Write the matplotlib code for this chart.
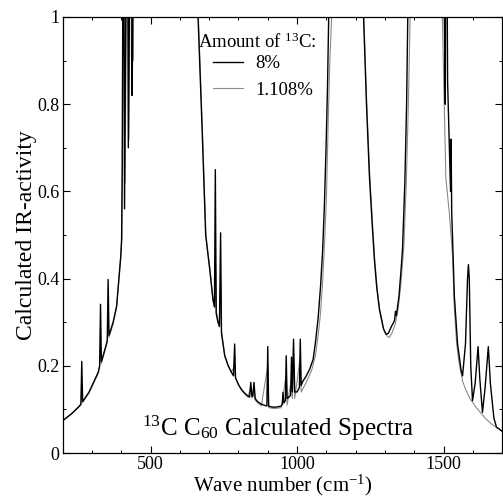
"""
Calculated IR spectra of 13C-substituted C60
"""

import matplotlib
matplotlib.use("Agg")
import matplotlib.pyplot as plt
from matplotlib.ticker import MultipleLocator, FuncFormatter

plt.rcParams['font.family'] = ['Liberation Serif', 'DejaVu Serif']
plt.rcParams['mathtext.fontset'] = 'custom'
plt.rcParams['mathtext.rm'] = 'Liberation Serif'
plt.rcParams['mathtext.it'] = 'Liberation Serif:italic'

# 8% 13C spectrum (wave number, IR-activity); values > 1 run off the top
wn_8 = [200, 230, 253, 262, 265, 268, 290, 321, 326, 329, 332, 345, 352, 355, 358,
        372, 384, 392, 398, 401, 403, 405, 407, 411, 420, 424, 433, 437, 444,
        550, 655, 662, 676, 688, 702, 713, 718, 721, 724, 730, 735, 739, 742,
        753, 765, 776, 783, 787, 790, 800, 810, 820, 832, 838, 842, 846, 849,
        853, 857, 865, 878, 890, 897, 900, 903, 910, 923, 935, 946, 950, 952,
        955, 960, 963, 966, 972, 978, 981, 984, 988, 992, 1000, 1008, 1011, 1014,
        1020, 1030, 1043, 1055, 1063, 1072, 1080, 1087, 1093, 1099, 1104, 1108,
        1112, 1170, 1222, 1227, 1237, 1247, 1256, 1264, 1272, 1281, 1295, 1304,
        1312, 1322, 1330, 1333, 1336, 1339, 1348, 1355, 1360, 1368, 1374, 1378,
        1382, 1440, 1498, 1503, 1506, 1509, 1514, 1520, 1524, 1526, 1528, 1531,
        1537, 1548, 1560, 1565, 1575, 1582, 1585, 1588, 1593, 1599, 1608, 1618,
        1624, 1633, 1642, 1653, 1660, 1672, 1681, 1690, 1700]
ir_8 = [0.074, 0.09, 0.105, 0.112, 0.21, 0.118, 0.14, 0.185, 0.20, 0.341, 0.21, 0.24,
        0.258, 0.398, 0.27, 0.30, 0.337, 0.40, 0.45, 0.49, 0.65, 1.0, 1.5, 0.56,
        1.5, 0.70, 1.5, 0.82, 1.5,
        1.5, 1.5, 1.0, 0.74, 0.50, 0.42, 0.352, 0.335, 0.65, 0.32, 0.30, 0.29, 0.505, 0.275,
        0.223, 0.20, 0.185, 0.177, 0.25, 0.172, 0.157, 0.146, 0.138, 0.131, 0.128, 0.162, 0.13, 0.13,
        0.162, 0.125, 0.118, 0.112, 0.109, 0.108, 0.244, 0.108, 0.106, 0.105, 0.106, 0.108, 0.112, 0.139,
        0.115, 0.12, 0.223, 0.125, 0.128, 0.132, 0.22, 0.14, 0.261, 0.14, 0.14, 0.15, 0.261, 0.155,
        0.165, 0.175, 0.192, 0.215, 0.255, 0.31, 0.38, 0.46, 0.56, 0.70, 0.84, 1.0,
        1.5, 1.5, 1.5, 1.0, 0.80, 0.635, 0.53, 0.444, 0.38, 0.33, 0.285, 0.272,
        0.275, 0.29, 0.30, 0.305, 0.325, 0.315, 0.36, 0.42, 0.467, 0.62, 0.80, 1.0,
        1.5, 1.5, 1.5, 1.0, 0.80, 1.5, 0.85, 0.70, 0.60, 0.72, 0.55, 0.49,
        0.36, 0.25, 0.19, 0.177, 0.25, 0.40, 0.432, 0.40, 0.20, 0.12, 0.16, 0.244,
        0.17, 0.093, 0.15, 0.244, 0.16, 0.08, 0.059, 0.055, 0.05]

# 1.108% 13C spectrum (natural abundance)
wn_1108 = [200, 230, 253, 262, 265, 268, 290, 321, 326, 329, 332, 345, 352, 355, 358,
           372, 384, 392, 398, 402, 404, 406, 408, 413, 422, 426, 435, 440, 446,
           550, 655, 663, 677, 689, 703, 713, 718, 721, 724, 735, 739, 742,
           753, 765, 776, 787, 790, 800, 810, 832, 842, 846, 853, 857, 878,
           900, 903, 923, 946, 963, 966, 981, 984, 988, 992, 1011, 1014,
           1030, 1050, 1063, 1072, 1080, 1087, 1093, 1100, 1106, 1112, 1118,
           1122, 1175, 1223, 1228, 1238, 1248, 1257, 1265, 1273, 1282, 1296, 1308,
           1315, 1324, 1335, 1345, 1355, 1365, 1373, 1380, 1386,
           1390, 1440, 1490, 1496, 1508, 1520, 1531, 1537, 1545, 1553, 1565, 1576,
           1590, 1611, 1630, 1645, 1665, 1690, 1700]
ir_1108 = [0.074, 0.09, 0.104, 0.110, 0.15, 0.116, 0.138, 0.182, 0.197, 0.24, 0.205, 0.236,
           0.254, 0.30, 0.265, 0.296, 0.334, 0.40, 0.45, 0.49, 0.65, 1.0, 1.5, 0.62,
           1.5, 0.72, 1.5, 0.90, 1.5,
           1.5, 1.5, 1.0, 0.74, 0.50, 0.42, 0.35, 0.335, 0.45, 0.325, 0.29, 0.40, 0.28,
           0.225, 0.20, 0.186, 0.20, 0.172, 0.156, 0.144, 0.128, 0.15, 0.126, 0.15, 0.121, 0.108,
           0.20, 0.104, 0.102, 0.104, 0.18, 0.11, 0.17, 0.125, 0.22, 0.125, 0.22, 0.14,
           0.16, 0.19, 0.225, 0.27, 0.32, 0.39, 0.47, 0.58, 0.75, 0.90, 1.0,
           1.5, 1.5, 1.5, 1.0, 0.80, 0.64, 0.535, 0.445, 0.38, 0.33, 0.283, 0.268,
           0.265, 0.275, 0.295, 0.33, 0.39, 0.48, 0.62, 0.80, 1.0,
           1.5, 1.5, 1.5, 1.0, 0.63, 0.55, 0.45, 0.33, 0.25, 0.207, 0.165, 0.145,
           0.125, 0.105, 0.09, 0.078, 0.066, 0.055, 0.05]

fig = plt.figure(figsize=(5.03, 4.97), dpi=100)
ax = fig.add_axes([0.1247, 0.0885, 0.8735, 0.8773])

ax.plot(wn_1108, ir_1108, color='#8a8a8a', linewidth=0.8, label='1.108%', zorder=2)
ax.plot(wn_8, ir_8, color='black', linewidth=1.0, label='8%', zorder=3)

ax.set_xlim(200, 1700)
ax.set_ylim(0, 1)

ax.xaxis.set_major_locator(MultipleLocator(500))
ax.xaxis.set_minor_locator(MultipleLocator(100))
ax.yaxis.set_major_locator(MultipleLocator(0.2))
ax.yaxis.set_minor_locator(MultipleLocator(0.1))
ax.yaxis.set_major_formatter(FuncFormatter(lambda v, p: '0' if abs(v) < 1e-9 else ('1' if abs(v - 1) < 1e-9 else f'{v:.1f}')))

ax.tick_params(which='both', direction='in', top=True, right=True, labelsize=13)
ax.tick_params(which='major', length=5, width=0.8)
ax.tick_params(which='minor', length=2.5, width=0.7)
ax.tick_params(axis='x', pad=2.5)
ax.tick_params(axis='y', pad=2.5)
for s in ax.spines.values():
    s.set_linewidth(0.9)

ax.set_xlabel('Wave number (cm$^{-1}$)', fontsize=15)
ax.xaxis.set_label_coords(0.5, -0.046)
ax.set_ylabel('Calculated IR-activity', fontsize=17)
ax.yaxis.set_label_coords(-0.058, 0.5)

ax.text(0.49, 0.039, '$^{13}$C C$_{60}$ Calculated Spectra', transform=ax.transAxes,
        ha='center', va='baseline', fontsize=18)

# legend: title as plain text, entries indented below it
ax.text(0.308, 0.943, 'Amount of $^{13}$C:', transform=ax.transAxes,
        ha='left', va='center', fontsize=13.5)
handles, labels = ax.get_legend_handles_labels()
ax.legend(handles[::-1], labels[::-1], loc='upper left',
          bbox_to_anchor=(0.342, 0.912), frameon=False,
          fontsize=13.5, handlelength=1.6, handletextpad=0.65,
          borderpad=0, borderaxespad=0, labelspacing=0.5)

plt.savefig('out.png', dpi=100)
plt.close()
